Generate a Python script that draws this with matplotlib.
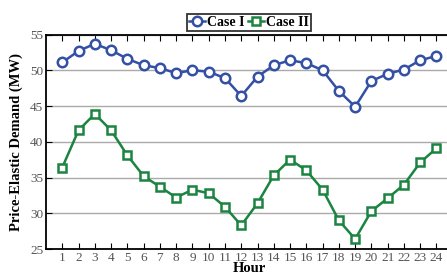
import matplotlib.pyplot as plt

hours = list(range(1, 25))
case1 = [51.1, 52.7, 53.7, 52.8, 51.6, 50.7, 50.3, 49.6, 50.0, 49.8, 48.9, 46.4,
         49.1, 50.7, 51.4, 51.0, 50.0, 47.1, 44.9, 48.5, 49.5, 50.1, 51.4, 52.0]
case2 = [36.4, 41.6, 43.9, 41.6, 38.1, 35.2, 33.7, 32.2, 33.3, 32.8, 30.9, 28.3,
         31.4, 35.3, 37.5, 36.0, 33.3, 29.0, 26.4, 30.3, 32.1, 34.0, 37.1, 39.1]

plt.rcParams['font.family'] = 'Liberation Serif'

fig = plt.figure(figsize=(4.47, 2.75), dpi=100)
ax = fig.add_axes([0.1029, 0.0945, 0.91, 0.78])

ax.plot(hours, case1, color='#3450a4', lw=1.8, marker='o', ms=6.8, mfc='white',
        mec='#3450a4', mew=1.8, label='Case I')
ax.plot(hours, case2, color='#1a8440', lw=1.8, marker='s', ms=6.2, mfc='white',
        mec='#1a8440', mew=1.8, label='Case II')

ax.set_xlim(0, 25)
ax.set_ylim(25, 55)
ax.set_xticks(hours)
ax.set_yticks([25, 30, 35, 40, 45, 50, 55])
ax.yaxis.grid(True, color='#aaaaaa', lw=1)
ax.set_axisbelow(True)
ax.tick_params(direction='in', top=True, right=True, length=4, labelsize=9.5,
               labelcolor='#555555', pad=2)
for s in ax.spines.values():
    s.set_linewidth(1.3)

ax.set_xlabel('Hour', fontsize=10.5, fontweight='bold', labelpad=-1)
ax.set_ylabel('Price-Elastic Demand (MW)', fontsize=10.5, fontweight='bold', labelpad=5)

leg = ax.legend(loc='upper center', bbox_to_anchor=(0.499, 1.128), ncol=2,
                frameon=True, fancybox=False, edgecolor='black',
                prop={'weight': 'bold', 'size': 10}, handlelength=1.1,
                handletextpad=0.15, columnspacing=0.3, borderpad=0.15)
leg.get_frame().set_linewidth(1.3)

fig.savefig('out.png', dpi=100)
